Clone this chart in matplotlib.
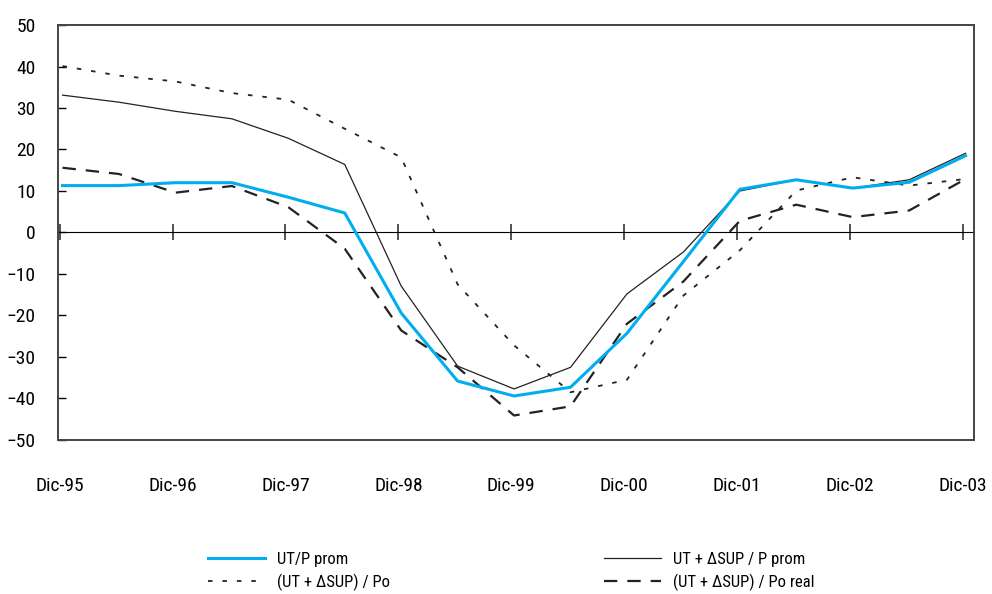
# =============================================================================
# Rentabilidad: UT/P y UT + dSUP, Dic-95 a Dic-03 (datos semestrales)
# =============================================================================
import numpy as np
import matplotlib
matplotlib.use('Agg')
import matplotlib.pyplot as plt
from matplotlib import font_manager

# pick a condensed face if one is installed, otherwise plain Liberation Sans
names = {f.name for f in font_manager.fontManager.ttflist}
dejavu_cond = any(f.name == 'DejaVu Sans' and 'condensed' in str(f.stretch)
                  for f in font_manager.fontManager.ttflist)
if 'Liberation Sans Narrow' in names:
    family, stretch, fs_tick, fs_leg = 'Liberation Sans Narrow', 'normal', 14, 13
elif 'Roboto Condensed' in names:
    family, stretch, fs_tick, fs_leg = 'Roboto Condensed', 'normal', 14, 12
elif dejavu_cond:
    family, stretch, fs_tick, fs_leg = 'DejaVu Sans', 'condensed', 12.5, 11.5
else:
    family, stretch, fs_tick, fs_leg = 'Liberation Sans', 'normal', 13, 11
plt.rcParams['font.family'] = [family, 'DejaVu Sans']
plt.rcParams['font.stretch'] = stretch

# =============================================================================
# Data (one value per half-year)
# =============================================================================
year_labels = ['Dic-95', 'Dic-96', 'Dic-97', 'Dic-98', 'Dic-99',
               'Dic-00', 'Dic-01', 'Dic-02', 'Dic-03']

ut_p_prom = [11.3, 11.3, 12.0, 12.0, 8.5, 4.7, -19.4, -35.8, -39.4,
             -37.3, -24.3, -7.0, 10.4, 12.7, 10.7, 12.1, 18.5]
ut_sup_p_prom = [33.1, 31.4, 29.2, 27.4, 22.7, 16.4, -12.9, -32.2, -37.7,
                 -32.5, -14.8, -4.7, 10.0, 12.7, 10.7, 12.7, 19.1]
ut_sup_po = [40.1, 37.8, 36.4, 33.6, 32.0, 25.0, 18.1, -12.5, -27.2,
             -38.5, -35.5, -15.2, -4.3, 10.1, 13.3, 11.3, 12.9]
ut_sup_po_real = [15.6, 14.1, 9.6, 11.2, 6.1, -3.9, -23.6, -32.5, -44.1,
                  -41.9, -22.0, -11.8, 2.8, 6.7, 3.7, 5.3, 12.9]

x = np.arange(len(ut_p_prom))

# =============================================================================
# Plot
# =============================================================================
fig = plt.figure(figsize=(9.92, 5.94), dpi=100)
ax = fig.add_axes([0.0585, 0.2593, 0.9234, 0.6986])

blue = '#00aeef'
l_po, = ax.plot(x, ut_sup_po, color='#222222', lw=1.3, linestyle=(0, (2.5, 5.5)),
                label='(UT + \u0394SUP) / Po')
l_real, = ax.plot(x, ut_sup_po_real, color='#222222', lw=1.6, linestyle=(0, (6, 4.5)),
                  label='(UT + \u0394SUP) / Po real')
l_sup, = ax.plot(x, ut_sup_p_prom, color='#222222', lw=0.9,
                 label='UT + \u0394SUP / P prom')
l_blue, = ax.plot(x, ut_p_prom, color=blue, lw=2.2, label='UT/P prom')

ax.set_xlim(-0.08, 16.15)
ax.set_ylim(-50, 50)
ax.set_yticks(np.arange(-50, 51, 10))
ax.tick_params(axis='y', direction='in', length=6, width=1, pad=16, labelsize=fs_tick)

xt = np.arange(0, 17, 2) - 0.05
ax.set_xticks(xt)
ax.set_xticklabels(year_labels)
ax.tick_params(axis='x', length=0, pad=27, labelsize=fs_tick)

for s in ax.spines.values():
    s.set_color('#444444')
    s.set_linewidth(1.4)

# zero line with the year ticks crossing it
sec = ax.secondary_xaxis(0.5)
sec.set_xticks(xt)
sec.xaxis.set_ticklabels([])
sec.tick_params(axis='x', direction='inout', length=12, width=1.1, color='#222222')
sec.spines['bottom'].set_linewidth(1.1)
sec.spines['bottom'].set_color('#222222')

# legend in two columns below the chart
leg_kw = dict(loc='upper left', frameon=False, fontsize=fs_leg, handlelength=3.4,
              handletextpad=0.75, borderpad=0, borderaxespad=0, labelspacing=0.4)
fig.legend(handles=[l_blue, l_po], bbox_to_anchor=(208 / 992, 1 - 552 / 594), **leg_kw)
fig.legend(handles=[l_sup, l_real], bbox_to_anchor=(604 / 992, 1 - 552 / 594), **leg_kw)

fig.savefig('out.png', dpi=100)
